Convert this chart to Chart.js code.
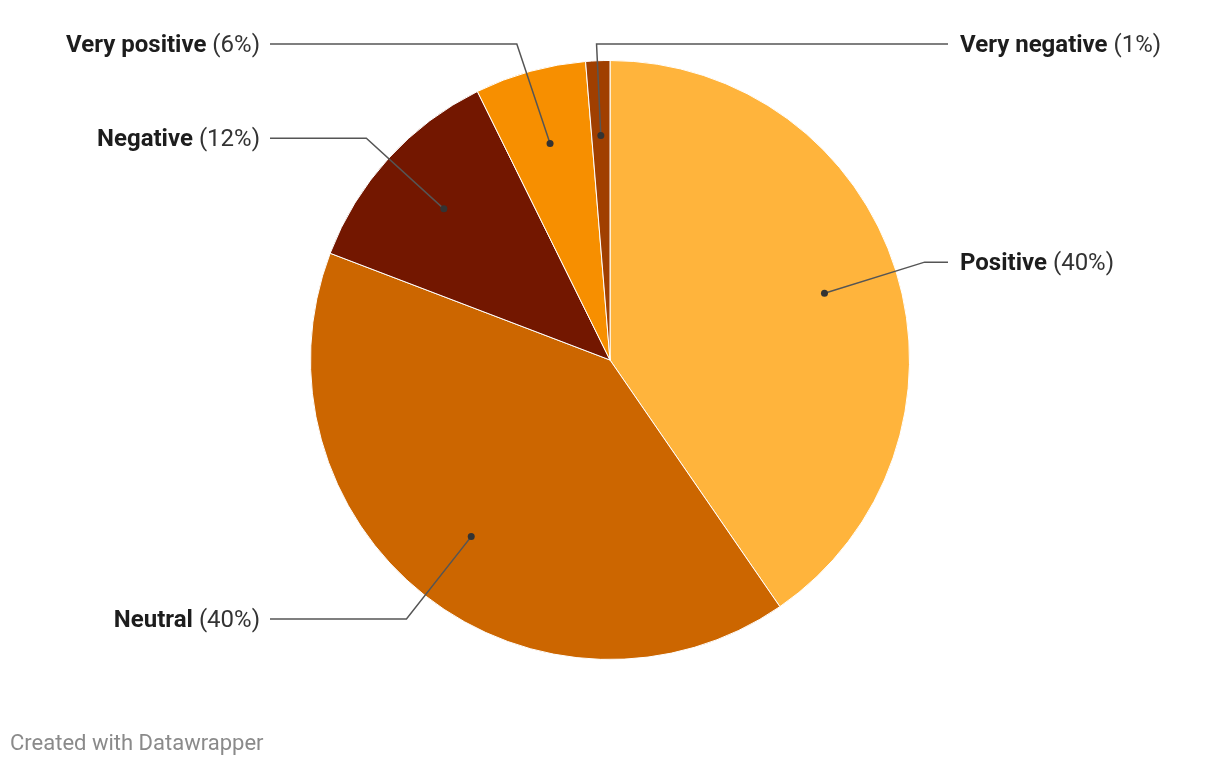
<!DOCTYPE html>
<html>
<head>
<meta charset="utf-8">
<script src="https://cdn.jsdelivr.net/npm/chart.js@4"></script>
<style>
    html, body { margin: 0; padding: 0; background: #fff; }
    #wrap { position: relative; width: 1220px; height: 766px; }
    #footer {
        position: absolute; left: 10px; top: 730px;
        font-family: Roboto, sans-serif; font-size: 22px; color: #8a8a8a;
    }
</style>
</head>
<body>
<div id="wrap">
    <canvas id="pieChart" width="1220" height="766"></canvas>
    <div id="footer">Created with Datawrapper</div>
</div>
<script>
// Dados
const categories = ['Positive', 'Neutral', 'Negative', 'Very positive', 'Very negative'];
const shares = [40.4, 40.4, 11.9, 6.0, 1.3];
const sliceColors = ['#ffb43c', '#cc6600', '#731700', '#f78f00', '#a03f00'];

// Rótulos com linhas de chamada
const calloutPlugin = {
    id: 'callouts',
    afterDatasetsDraw(chart) {
        const ctx = chart.ctx;
        const arcs = chart.getDatasetMeta(0).data;
        ctx.save();
        arcs.forEach((arc, i) => {
            const mid = (arc.startAngle + arc.endAngle) / 2;
            const r = arc.outerRadius;
            const dotX = arc.x + Math.cos(mid) * r * 0.75;
            const dotY = arc.y + Math.sin(mid) * r * 0.75;
            let elbowX = arc.x + Math.cos(mid) * r * 1.1;
            const rawY = arc.y + Math.sin(mid) * r * 1.1;
            const elbowY = Math.max(44, rawY);
            // fatias quase no topo ficam do lado direito
            const right = Math.cos(mid) > -0.1;
            const endX = right ? 948 : 270;
            // se o rótulo foi empurrado para baixo, o cotovelo segue o círculo
            if (rawY < elbowY && !right) {
                const dy = elbowY - arc.y;
                elbowX = arc.x - Math.sqrt(Math.max(0, (r * 1.1) ** 2 - dy * dy));
            }

            ctx.strokeStyle = '#555';
            ctx.lineWidth = 1.5;
            ctx.beginPath();
            ctx.moveTo(dotX, dotY);
            ctx.lineTo(elbowX, elbowY);
            ctx.lineTo(endX, elbowY);
            ctx.stroke();

            ctx.fillStyle = '#333';
            ctx.beginPath();
            ctx.arc(dotX, dotY, 3.5, 0, Math.PI * 2);
            ctx.fill();

            const name = categories[i];
            const pct = ' (' + Math.round(shares[i]) + '%)';
            const boldFont = 'bold 24px Roboto, sans-serif';
            const normFont = '24px Roboto, sans-serif';
            ctx.font = boldFont;
            const wName = ctx.measureText(name).width;
            ctx.font = normFont;
            const wPct = ctx.measureText(pct).width;
            let x = right ? 960 : 260 - wName - wPct;
            ctx.textBaseline = 'middle';
            ctx.textAlign = 'left';
            ctx.font = boldFont;
            ctx.fillStyle = '#1d1d1d';
            ctx.fillText(name, x, elbowY + 2);
            ctx.font = normFont;
            ctx.fillStyle = '#333';
            ctx.fillText(pct, x + wName, elbowY + 2);
        });
        ctx.restore();
    }
};

const initPie = () => {
    const el = document.getElementById('pieChart');
    new Chart(el, {
        type: 'pie',
        data: {
            labels: categories,
            datasets: [{
                data: shares,
                backgroundColor: sliceColors,
                borderColor: '#ffffff',
                borderWidth: 1
            }]
        },
        options: {
            responsive: false,
            animation: false,
            layout: { padding: { top: 60, bottom: 106, left: 0, right: 0 } },
            plugins: {
                legend: { display: false },
                tooltip: { enabled: false }
            }
        },
        plugins: [calloutPlugin]
    });
};

initPie();
</script>
</body>
</html>
